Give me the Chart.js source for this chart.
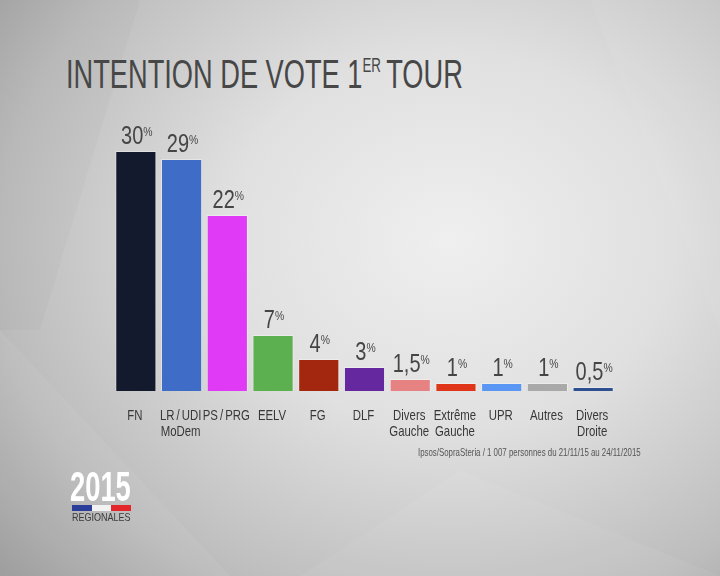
<!DOCTYPE html>
<html>
<head>
<meta charset="utf-8">
<script src="https://cdn.jsdelivr.net/npm/chart.js@4.4.0/dist/chart.umd.min.js"></script>
<style>
  html, body { margin: 0; padding: 0; }
  body {
    width: 720px; height: 576px; overflow: hidden; position: relative;
    background: radial-gradient(ellipse 640px 540px at 450px 240px, #efefef 0%, #e0e0e0 35%, #bdbdbd 70%, #8f8f8f 100%);
    font-family: 'Liberation Sans', Arial, sans-serif;
  }
  .facette { position: absolute; left: 0; top: 0; width: 720px; height: 576px; }
  #chart { position: absolute; left: 0; top: 0; }
  .squeeze { position: absolute; white-space: nowrap; transform-origin: left top; }
  #title { left: 66px; top: 51px; font-size: 41px; color: #474747; }
  #title sup { font-size: 20px; vertical-align: 16px; margin-right: 8px; }
  #source { left: 418px; top: 446px; font-size: 11px; color: #555; }
  #year { left: 70px; top: 462px; color: #fff; font-weight: bold; font-size: 43px; }
  #flag { position: absolute; left: 72px; top: 505px; width: 59px; height: 6px; display: flex; }
  #flag div { flex: 1; }
  #reg { left: 72px; top: 511px; font-size: 11px; color: #3a3a3a; }
</style>
</head>
<body>
<div class="facette" style="background:rgba(255,255,255,0.06);clip-path:polygon(0 330px,230px 576px,0 576px)"></div>
<div class="facette" style="background:rgba(255,255,255,0.05);clip-path:polygon(300px 576px,460px 470px,720px 576px)"></div>
<div class="facette" style="background:rgba(0,0,0,0.02);clip-path:polygon(0 0,140px 0,40px 330px,0 330px)"></div>
<div class="facette" style="background:rgba(255,255,255,0.05);clip-path:polygon(590px 0,720px 0,720px 330px)"></div>
<div id="title" class="squeeze" data-w="397">INTENTION DE VOTE 1<sup>ER</sup>TOUR</div>
<canvas id="chart" width="720" height="576"></canvas>
<div id="source" class="squeeze" data-w="223">Ipsos/SopraSteria / 1 007 personnes du 21/11/15 au 24/11/2015</div>
<div id="year" class="squeeze" data-w="61">2015</div>
<div id="flag"><div style="background:#2b3f9a"></div><div style="background:#f2f2f2"></div><div style="background:#e3262b"></div></div>
<div id="reg" class="squeeze" data-w="59">REGIONALES</div>
<script>
const partis = [['FN'], ['LR / UDI', 'MoDem'], ['PS / PRG'], ['EELV'], ['FG'], ['DLF'],
  ['Divers', 'Gauche'], ['Extrême', 'Gauche'], ['UPR'], ['Autres'], ['Divers', 'Droite']];
const intentions = [30, 29, 22, 7, 4, 3, 1.5, 1, 1, 1, 0.5];
const etiquettes = ['30', '29', '22', '7', '4', '3', '1,5', '1', '1', '1', '0,5'];
const couleurs = ['#141a2e', '#3f6cc6', '#e03af6', '#5db04f', '#a3260e', '#65289f',
  '#e68282', '#df3518', '#5a96f4', '#a9a9a9', '#2e4f90'];

const FONT = "'Liberation Sans', Arial, sans-serif";

// textes condenses en largeur fixe
document.querySelectorAll('.squeeze').forEach((el) => {
  const s = Number(el.dataset.w) / el.offsetWidth;
  el.style.transform = `scaleX(${s})`;
});

function texteSerre(c, txt, x, y, sx) {
  c.save();
  c.translate(x, y);
  c.scale(sx, 1);
  c.fillText(txt, 0, 0);
  c.restore();
}

// etiquettes de valeur et noms des partis
const textesBarres = {
  id: 'textesBarres',
  afterDatasetsDraw(chart) {
    const c = chart.ctx;
    const meta = chart.getDatasetMeta(0);
    const sx = 0.8;
    c.save();
    c.textBaseline = 'alphabetic';
    c.textAlign = 'left';
    meta.data.forEach((bar, i) => {
      c.fillStyle = '#454545';
      c.wordSpacing = '0px';
      c.font = `25px ${FONT}`;
      const txt = etiquettes[i];
      const w1 = c.measureText(txt).width * sx;
      c.font = `13px ${FONT}`;
      const w2 = c.measureText('%').width * sx;
      const x0 = bar.x - (w1 + w2) / 2 + 1;
      const y = bar.y - 7;
      c.font = `25px ${FONT}`;
      texteSerre(c, txt, x0, y, sx);
      c.font = `13px ${FONT}`;
      texteSerre(c, '%', x0 + w1, y - 8, sx);

      c.fillStyle = '#383838';
      c.font = `15px ${FONT}`;
      c.wordSpacing = '-1.5px';
      const lx = 0.76;
      partis[i].forEach((ligne, k) => {
        const w = c.measureText(ligne).width * lx;
        texteSerre(c, ligne, bar.x - w / 2 - 1, 420 + k * 16, lx);
      });
    });
    c.restore();
  },
};

const ctx = document.getElementById('chart').getContext('2d');
const myChart = new Chart(ctx, {
  type: 'bar',
  data: {
    labels: partis,
    datasets: [{
      data: intentions,
      backgroundColor: couleurs,
      borderColor: 'rgba(255,255,255,0.35)',
      borderWidth: 1,
      barPercentage: 0.9,
      categoryPercentage: 1,
    }],
  },
  options: {
    responsive: false,
    animation: false,
    layout: { padding: { left: 113, right: 104, top: 119, bottom: 185 } },
    scales: {
      x: { display: false },
      y: { display: false, min: 0, max: 34 },
    },
    plugins: {
      legend: { display: false },
      tooltip: { enabled: false },
    },
  },
  plugins: [textesBarres],
});
</script>
</body>
</html>
